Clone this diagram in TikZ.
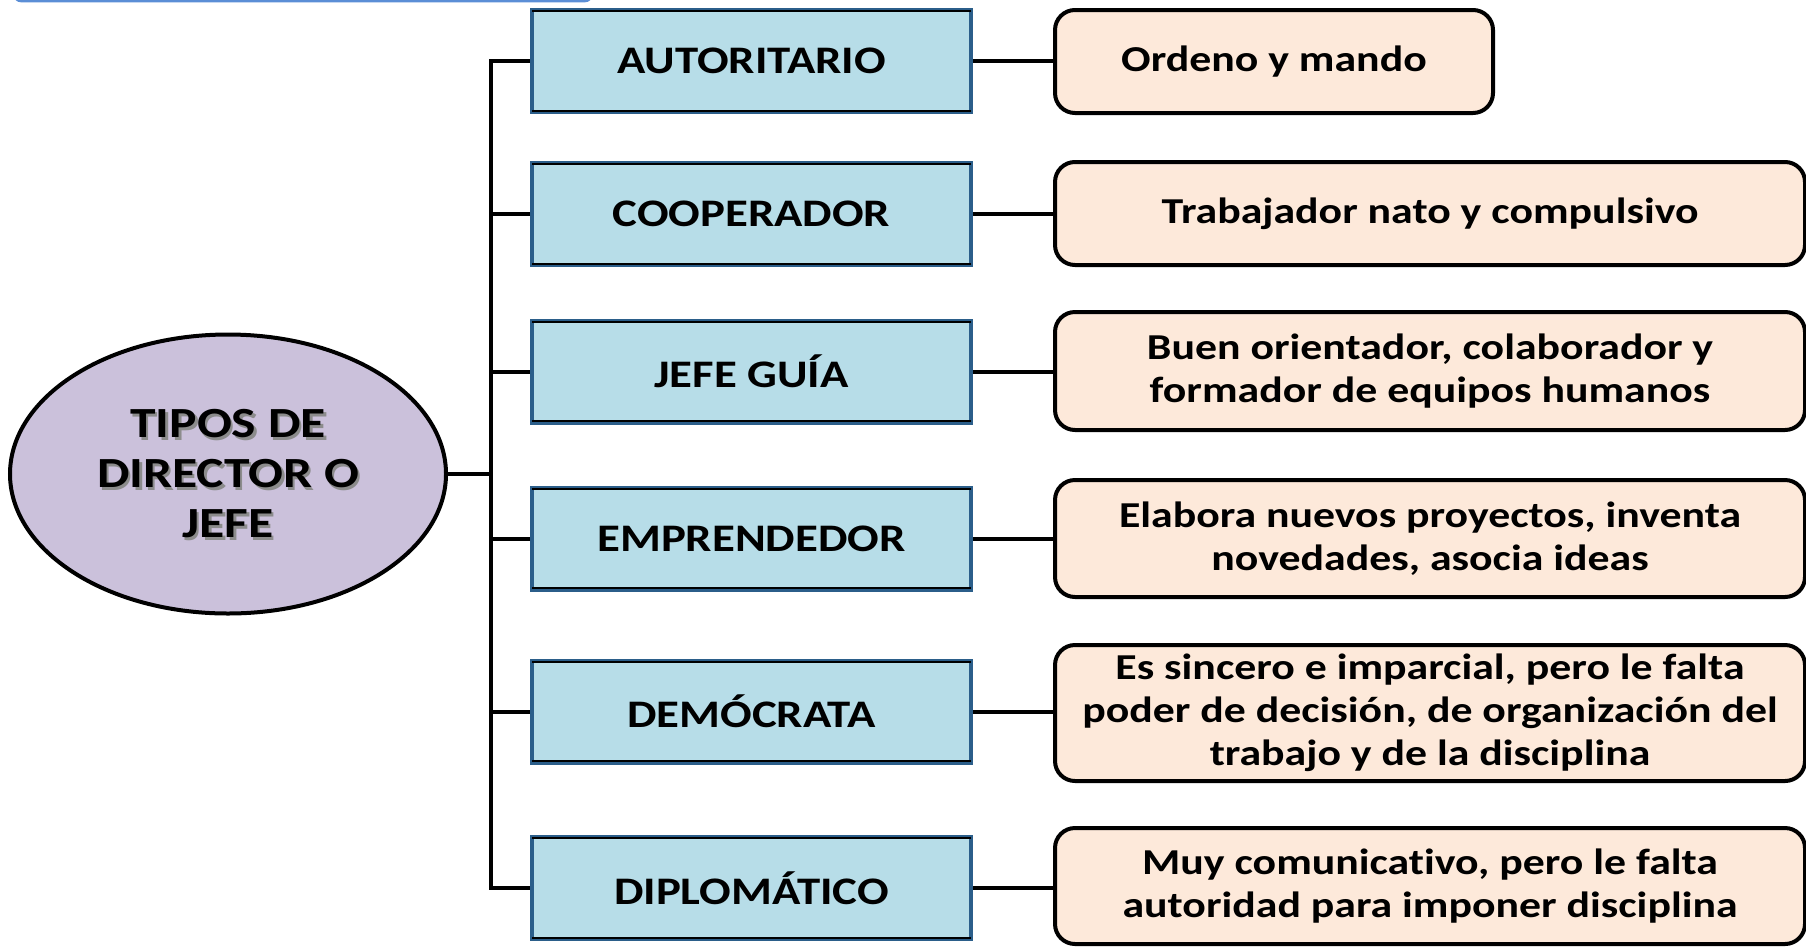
\documentclass[tikz,border=0pt]{standalone}
\usepackage{fontspec}
\setmainfont{Carlito}[FakeStretch=1.2,Ligatures=NoCommon]
\usetikzlibrary{shapes.geometric,calc}
\definecolor{boxblue}{HTML}{B7DDE8}
\definecolor{boxborder}{HTML}{2B5E8A}
\definecolor{peach}{HTML}{FDE9DA}
\definecolor{lilac}{HTML}{CBC1DB}
\definecolor{topline}{HTML}{5B8ED6}
\begin{document}
\begin{tikzpicture}[x=1pt,y=-1pt,
  typebox/.style={rectangle,fill=boxblue,draw=boxborder,line width=4pt,
    minimum width=439pt,minimum height=102pt,inner sep=0pt,
    font=\bfseries\fontsize{39}{46}\selectfont},
  descbox/.style={rectangle,rounded corners=20pt,fill=peach,draw=black,line width=4pt,
    inner sep=0pt,align=center,
    font=\bfseries\fontsize{36.5}{43}\selectfont},
  rootell/.style={ellipse,fill=lilac,draw=black,line width=4pt,
    minimum width=436pt,minimum height=279pt,inner sep=0pt},
  roottext/.style={align=center,font=\bfseries\fontsize{43}{50}\selectfont},
  conn/.style={draw=black,line width=4pt},
  innerline/.style={draw=black,line width=1.8pt}]
\useasboundingbox (0,0) rectangle (1806,946);
\clip (0,0) rectangle (1806,946);

% top partial blue frame
\draw[topline,line width=3pt,rounded corners=6pt] (15,-20) -- (15,0.8) -- (591,0.8) -- (591,-20);

% root
\node[rootell] (root) at (228,474) {};
\node[roottext,text=black!45] (rootshadow) at (230.5,477) {TIPOS DE\\DIRECTOR O\\JEFE};
\node[roottext] (roottxt) at (228,474) {TIPOS DE\\DIRECTOR O\\JEFE};

% type boxes
\node[typebox] (b1) at (751.5,61) {AUTORITARIO};
\node[typebox] (b2) at (751.5,214) {COOPERADOR};
\node[typebox] (b3) at (751.5,371.5) {JEFE GUÍA};
\node[typebox] (b4) at (751.5,538.5) {EMPRENDEDOR};
\node[typebox] (b5) at (751.5,711.5) {DEMÓCRATA};
\node[typebox] (b6) at (751.5,888) {DIPLOMÁTICO};
\foreach \b in {b1,b2,b3,b4,b5,b6}{
  \draw[innerline] ($(\b.north west)+(2,3.2)$) -- ($(\b.north east)+(-2,3.2)$);
  \draw[innerline] ($(\b.south west)+(2,-3.2)$) -- ($(\b.south east)+(-2,-3.2)$);
}

% description boxes
\node[descbox,minimum width=438pt,minimum height=103pt] (d1) at (1274,61.5) {Ordeno y mando};
\node[descbox,minimum width=750pt,minimum height=103pt] (d2) at (1430,213.5) {Trabajador nato y compulsivo};
\node[descbox,minimum width=750pt,minimum height=118pt] (d3) at (1430,371) {Buen orientador, colaborador y\\formador de equipos humanos};
\node[descbox,minimum width=750pt,minimum height=117pt] (d4) at (1430,538.5) {Elabora nuevos proyectos, inventa\\novedades, asocia ideas};
\node[descbox,minimum width=750pt,minimum height=136pt] (d5) at (1430,713) {Es sincero e imparcial, pero le falta\\poder de decisión, de organización del\\trabajo y de la disciplina};
\node[descbox,minimum width=750pt,minimum height=116pt] (d6) at (1430,886) {Muy comunicativo, pero le falta\\autoridad para imponer disciplina};

% connectors
\coordinate (trunk) at (491,0);
\draw[conn] (root.east) -- (root.east -| trunk);
\draw[conn] (b1.west) -- (b1.west -| trunk) -- (b6.west -| trunk) -- (b6.west);
\foreach \b in {b2,b3,b4,b5}{
  \draw[conn] (\b.west) -- (\b.west -| trunk);
}
\draw[conn] (b1.east) -- (b1.east -| d1.west);
\draw[conn] (b2.east) -- (b2.east -| d2.west);
\draw[conn] (b3.east) -- (b3.east -| d3.west);
\draw[conn] (b4.east) -- (b4.east -| d4.west);
\draw[conn] (b5.east) -- (b5.east -| d5.west);
\draw[conn] (b6.east) -- (b6.east -| d6.west);
\end{tikzpicture}
\end{document}
